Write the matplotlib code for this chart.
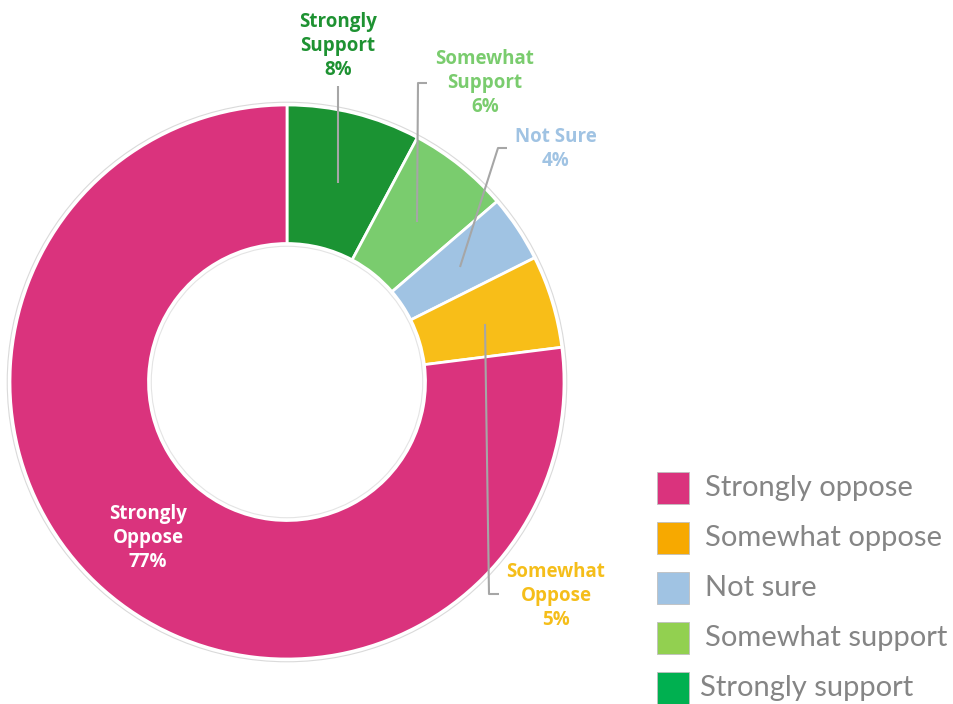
import matplotlib
matplotlib.use("Agg")
import matplotlib.pyplot as plt
from matplotlib.patches import Circle, Rectangle

# ---- data (clockwise from top) ----
categories = ["Strongly Support", "Somewhat Support", "Not Sure", "Somewhat Oppose", "Strongly Oppose"]
values = [7.8, 5.9, 3.9, 5.4, 77.0]
slice_colors = ["#1B9333", "#7ACC6E", "#A0C3E3", "#F8BE18", "#DA337D"]
label_colors = ["#1E9232", "#7ACC6E", "#A0C3E3", "#F5BE1A", "#FFFFFF"]

legend_labels = ["Strongly oppose", "Somewhat oppose", "Not sure", "Somewhat support", "Strongly support"]
legend_colors = ["#DA337D", "#F7A900", "#A0C3E3", "#92D050", "#00B050"]

W, H = 954, 704
fig = plt.figure(figsize=(W / 100, H / 100), dpi=100)
CX, CY, R = 287, 382, 277
ax = fig.add_axes([(CX - R) / W, (H - CY - R) / H, 2 * R / W, 2 * R / H])

def px(x, y):
    return ((x - CX) / R, (CY - y) / R)

wedges, _ = ax.pie(values, colors=slice_colors, startangle=90, counterclock=False,
                   radius=1.0, wedgeprops=dict(width=0.5, edgecolor="white", linewidth=2))
ax.set_xlim(-1, 1)
ax.set_ylim(-1, 1)
ax.set_aspect("equal")
ax.axis("off")
ax.add_patch(Circle((0, 0), 1.01, fill=False, edgecolor="#DADADA", lw=0.8, clip_on=False))
ax.add_patch(Circle((0, 0), 0.49, fill=False, edgecolor="#E4E4E4", lw=0.8))

# labels: (text center px, leader polyline px)
label_pos = [(338, 46), (485, 83), (556, 149), (556, 596), (148, 538)]
leaders = [
    [(338, 86), (338, 183)],
    [(427, 83), (418, 83), (417, 222)],
    [(507, 148), (498, 148), (460, 267)],
    [(485, 324), (489, 594), (499, 594)],
    None,
]
font = "Open Sans"
for cat, v, col, pos, ld in zip(categories, values, label_colors, label_pos, leaders):
    if cat == "Not Sure":
        txt = cat + "\n" + f"{round(v):d}%"
    else:
        txt = cat.replace(" ", "\n") + "\n" + f"{round(v):d}%"
    x, y = px(*pos)
    ax.text(x, y, txt, ha="center", va="center", color=col, fontsize=13.5,
            fontweight="bold", family=font, linespacing=1.25, clip_on=False)
    if ld:
        xs, ys = zip(*[px(a, b) for a, b in ld])
        ax.plot(xs, ys, color="#A6A6A6", lw=1.5, solid_capstyle="butt", clip_on=False)

# legend
for i, (lab, col) in enumerate(zip(legend_labels, legend_colors)):
    yc = 488 + 50 * i
    fig.add_artist(Rectangle((657 / W, (H - yc - 16) / H), 32 / W, 32 / H,
                             transform=fig.transFigure, facecolor=col,
                             edgecolor="#BFBFBF", lw=0.6))
    xt = 705 if i < 4 else 700
    fig.text(xt / W, (H - yc) / H, lab, ha="left", va="center", fontsize=21,
             color="#858585", family="Lato", fontweight="normal")

fig.savefig("out.png", dpi=100, facecolor="white")
